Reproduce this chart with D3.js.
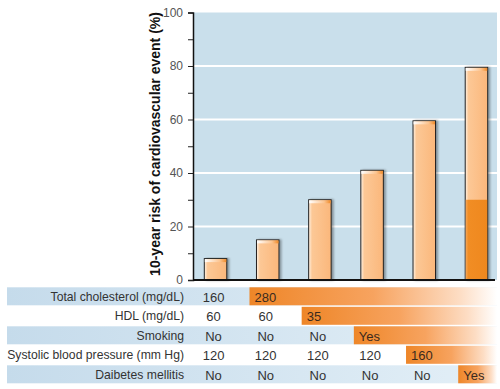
<!DOCTYPE html>
<html>
<head>
<meta charset="utf-8">
<script src="https://cdn.jsdelivr.net/npm/d3@7"></script>
<style>
  body { margin: 0; background: #fff; }
  svg { display: block; font-family: "Liberation Sans", Arial, sans-serif; }
</style>
</head>
<body>
<div id="chart"></div>
<script>
// chart data
const scenarios = ["A", "B", "C", "D", "E", "F"];
const riskValues = [8, 15, 30, 41, 59.5, 79.5];
const diabetesPart = [0, 0, 0, 0, 0, 30];
const yTicks = [0, 10, 20, 30, 40, 50, 60, 70, 80, 90, 100];
const yLabels = [0, 20, 40, 60, 80, 100];

// table under the chart
const rowLabels = ["Total cholesterol (mg/dL)", "HDL (mg/dL)", "Smoking", "Systolic blood pressure (mm Hg)", "Daibetes mellitis"];
const rowNormal = [["160"], ["60", "60"], ["No", "No", "No"], ["120", "120", "120", "120"], ["No", "No", "No", "No", "No"]];
const rowRisk = ["280", "35", "Yes", "160", "Yes"];

const width = 500;
const height = 389;
const plot = { left: 193, right: 497, top: 12.5, bottom: 280 };

const svg = d3.select("#chart").append("svg")
    .attr("width", width)
    .attr("height", height);

const defs = svg.append("defs");

// gradients
const barGrad = defs.append("linearGradient").attr("id", "barGrad");
barGrad.append("stop").attr("offset", "0%").attr("stop-color", "#fff3e6");
barGrad.append("stop").attr("offset", "15%").attr("stop-color", "#fcc896");
barGrad.append("stop").attr("offset", "100%").attr("stop-color", "#fbb77b");

const darkGrad = defs.append("linearGradient").attr("id", "darkGrad");
darkGrad.append("stop").attr("offset", "0%").attr("stop-color", "#f6a758");
darkGrad.append("stop").attr("offset", "12%").attr("stop-color", "#f18d24");
darkGrad.append("stop").attr("offset", "100%").attr("stop-color", "#ef881e");

const topGrad = defs.append("linearGradient").attr("id", "topGrad");
topGrad.append("stop").attr("offset", "0%").attr("stop-color", "#ffffff");
topGrad.append("stop").attr("offset", "70%").attr("stop-color", "#fcc48f");
topGrad.append("stop").attr("offset", "100%").attr("stop-color", "#f08a28");

const orangeGrad = defs.append("linearGradient").attr("id", "orangeGrad");
orangeGrad.append("stop").attr("offset", "0%").attr("stop-color", "#ee8628");
orangeGrad.append("stop").attr("offset", "50%").attr("stop-color", "#f7a35f");
orangeGrad.append("stop").attr("offset", "85%").attr("stop-color", "#fdddc4");
orangeGrad.append("stop").attr("offset", "100%").attr("stop-color", "#ffffff");

const blueGrad = defs.append("linearGradient").attr("id", "blueGrad");
blueGrad.append("stop").attr("offset", "0%").attr("stop-color", "#c5dbeb");
blueGrad.append("stop").attr("offset", "100%").attr("stop-color", "#e3eff7");

const shadow = defs.append("filter").attr("id", "shadow")
    .attr("x", "-20%").attr("y", "-5%").attr("width", "160%").attr("height", "115%");
shadow.append("feDropShadow").attr("dx", 2).attr("dy", 0).attr("stdDeviation", 1)
    .attr("flood-color", "#000").attr("flood-opacity", 0.35);

// scales
const x = d3.scaleBand()
    .domain(scenarios)
    .range([plot.left, 499])
    .paddingInner(0.569)
    .paddingOuter(0.2165);

const y = d3.scaleLinear()
    .domain([0, 100])
    .range([plot.bottom, plot.top]);

// plot background
svg.append("rect")
    .attr("x", plot.left)
    .attr("y", plot.top)
    .attr("width", plot.right - plot.left)
    .attr("height", plot.bottom - plot.top)
    .attr("fill", "#c9dfeb");

// white gridlines
svg.selectAll(".grid")
    .data([20, 40, 60, 80])
    .enter().append("line")
    .attr("x1", plot.left)
    .attr("x2", plot.right)
    .attr("y1", d => y(d))
    .attr("y2", d => y(d))
    .attr("stroke", "#fff")
    .attr("stroke-width", 2);

// bars
const bars = svg.selectAll(".bar")
    .data(scenarios)
    .enter().append("g");

bars.append("rect")
    .attr("x", d => x(d))
    .attr("y", (d, i) => y(riskValues[i]))
    .attr("width", x.bandwidth())
    .attr("height", (d, i) => y(0) - y(riskValues[i]))
    .attr("fill", "url(#barGrad)")
    .attr("stroke", "#222")
    .attr("stroke-width", 1)
    .attr("filter", "url(#shadow)");

bars.filter((d, i) => diabetesPart[i] > 0).append("rect")
    .attr("x", d => x(d) + 0.5)
    .attr("y", d => y(diabetesPart[scenarios.indexOf(d)]))
    .attr("width", x.bandwidth() - 1)
    .attr("height", d => y(0) - y(diabetesPart[scenarios.indexOf(d)]))
    .attr("fill", "url(#darkGrad)");

// highlight strip on bar tops
bars.append("rect")
    .attr("x", d => x(d) + 0.5)
    .attr("y", (d, i) => y(riskValues[i]) + 0.5)
    .attr("width", x.bandwidth() - 1)
    .attr("height", 3)
    .attr("fill", "url(#topGrad)");

// x axis line
svg.append("line")
    .attr("x1", plot.left)
    .attr("x2", 495)
    .attr("y1", plot.bottom)
    .attr("y2", plot.bottom)
    .attr("stroke", "#111")
    .attr("stroke-width", 2);

// y axis
const yAxis = svg.append("g")
    .attr("transform", `translate(${plot.left},0)`)
    .call(d3.axisLeft(y)
        .tickValues(yTicks)
        .tickSize(5)
        .tickPadding(5)
        .tickFormat(d => yLabels.includes(d) ? d : ""));

yAxis.select(".domain").attr("stroke", "#111").attr("stroke-width", 1.5);
yAxis.selectAll(".tick line").attr("stroke", "#222");
yAxis.selectAll(".tick text")
    .attr("fill", "#555")
    .style("font-size", "12px")
    .style("font-family", "'Liberation Sans', Arial, sans-serif");

// y axis title
svg.append("text")
    .attr("transform", "translate(160,144) rotate(-90)")
    .attr("text-anchor", "middle")
    .style("font-size", "14px")
    .style("font-weight", "bold")
    .attr("fill", "#111")
    .text("10-year risk of cardiovascular event (%)");

// table rows
const rowTop = 287.3;
const rowStep = 19.5;
const rowH = 18;

rowLabels.forEach((label, r) => {
    const top = rowTop + r * rowStep;
    const mid = top + rowH / 2;

    if (r % 2 === 0) {
        svg.append("rect")
            .attr("x", 7)
            .attr("y", top)
            .attr("width", 490)
            .attr("height", rowH)
            .attr("fill", "url(#blueGrad)");
    }

    const riskCol = rowNormal[r].length;
    const riskX = x(scenarios[riskCol]) - 7;
    svg.append("rect")
        .attr("x", riskX)
        .attr("y", top)
        .attr("width", 497 - riskX)
        .attr("height", rowH)
        .attr("fill", "url(#orangeGrad)");

    svg.append("text")
        .attr("x", 184)
        .attr("y", mid)
        .attr("dy", "0.35em")
        .attr("text-anchor", "end")
        .attr("fill", "#333")
        .style("font-size", "12.2px")
        .text(label);

    rowNormal[r].forEach((v, c) => {
        svg.append("text")
            .attr("x", x(scenarios[c]) + x.bandwidth() / 2 - 2)
            .attr("y", mid + 1)
            .attr("dy", "0.35em")
            .attr("text-anchor", "middle")
            .attr("fill", "#333")
            .style("font-size", "13px")
            .text(v);
    });

    svg.append("text")
        .attr("x", riskX + 5)
        .attr("y", mid + 1)
        .attr("dy", "0.35em")
        .attr("fill", "#3a2a1e")
        .style("font-size", "13px")
        .text(rowRisk[r]);
});
</script>
</body>
</html>
